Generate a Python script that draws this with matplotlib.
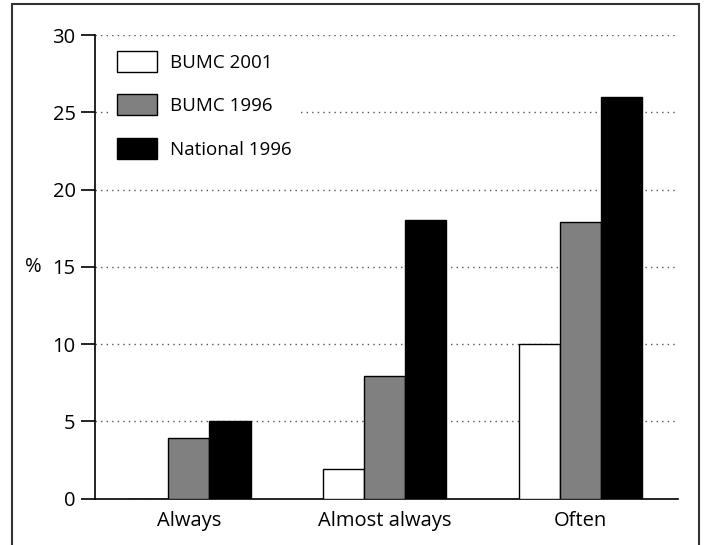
import matplotlib
matplotlib.use("Agg")
import matplotlib.pyplot as plt
import matplotlib.patches as mpatches
import numpy as np

plt.rcParams['font.family'] = ['Open Sans', 'DejaVu Sans']

categories = ["Always", "Almost always", "Often"]
series_names = ["BUMC 2001", "BUMC 1996", "National 1996"]
bumc_2001 = [0, 1.9, 10]
bumc_1996 = [3.9, 7.9, 17.9]
national_1996 = [5, 18, 26]
colors = ["white", "#808080", "black"]
yticks = [0, 5, 10, 15, 20, 25, 30]

fig = plt.figure(figsize=(7.06, 5.45), dpi=100)
ax = fig.add_axes([95/706, 1-498.5/545, (678-95)/706, (498.5-35)/545])

x = np.arange(len(categories))
w = 0.21
for i, (vals, c, name) in enumerate(zip([bumc_2001, bumc_1996, national_1996], colors, series_names)):
    ax.bar(x + (i-1)*w, vals, w, color=c, edgecolor="black", linewidth=1.0,
           label=name, zorder=3)

ax.set_xlim(-0.48, 2.5)
ax.set_ylim(0, 30)
ax.set_yticks(yticks)
ax.set_xticks(x)
ax.set_xticklabels(categories, fontsize=14.5)
ax.tick_params(axis='x', length=0, pad=9)
ax.tick_params(axis='y', direction='out', length=10, width=1.2, labelsize=14.5, pad=4)
for s in ['top', 'right']:
    ax.spines[s].set_visible(False)
ax.spines['left'].set_linewidth(1.2)
ax.spines['bottom'].set_linewidth(1.2)
ax.yaxis.grid(True, linestyle=(0, (1, 3)), color='#555555', linewidth=1.0, zorder=0)
ax.set_axisbelow(True)
ax.set_ylabel("%", rotation=0, fontsize=14.5, va='center')
ax.yaxis.set_label_coords(-0.105, 0.5)

leg = ax.legend(loc='upper left', bbox_to_anchor=(0.028, 0.978), frameon=True,
                fontsize=13.5, handlelength=2.13, handleheight=1.35,
                labelspacing=1.2, handletextpad=0.7, borderpad=0.3,
                borderaxespad=0)
leg.get_frame().set_edgecolor('none')
leg.get_frame().set_facecolor('white')
leg.get_frame().set_alpha(1)
leg.get_frame().set_boxstyle('square', pad=0)

frame = mpatches.Rectangle((12/706, -0.05), (699-12)/706, 1-4/545+0.05,
                           transform=fig.transFigure, fill=False,
                           edgecolor='#333333', linewidth=1.5, clip_on=False)
fig.patches.append(frame)

fig.savefig("out.png", dpi=100)
